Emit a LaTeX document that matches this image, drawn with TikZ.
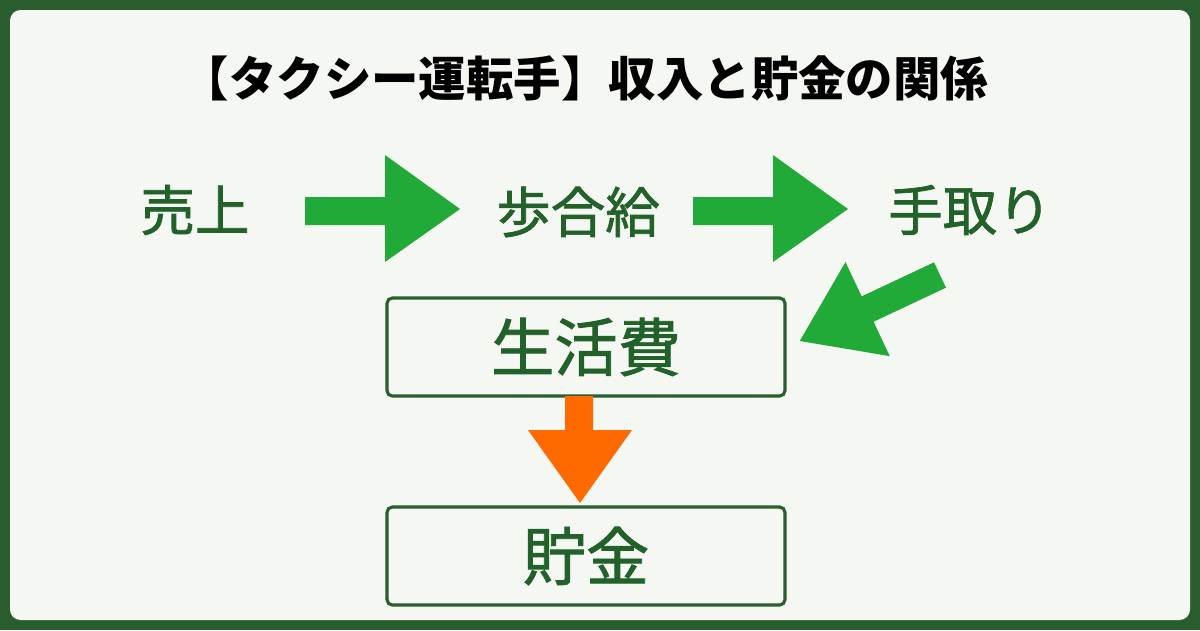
\documentclass[tikz,border=0pt]{standalone}
\usepackage{fontspec}
\setmainfont{Noto Sans CJK JP}
\newfontfamily\medfont[FakeBold=1.3]{Noto Sans CJK JP}
\begin{document}
\begin{tikzpicture}[x=0.02cm,y=-0.02cm,
  lbl/.style={text=txtgreen,font=\medfont\fontsize{31}{35}\selectfont},
  box/.style={draw=frame,line width=1.8pt,rounded corners=3pt,minimum width=7.96cm,minimum height=1.96cm,text=txtgreen,font=\medfont\fontsize{36}{40}\selectfont},
  garrow/.style={fill=arrowgreen},
]
\definecolor{arrowgreen}{HTML}{22AA38}
\definecolor{frame}{HTML}{2A5E2E}
\definecolor{txtgreen}{HTML}{23612A}
\definecolor{bg}{HTML}{F5F7F3}
\definecolor{orng}{HTML}{FF6A00}
\fill[frame] (0,0) rectangle (1200,630);
\fill[bg,rounded corners=6pt] (10,10) rectangle (1190,620);
\node[font=\bfseries\fontsize{27}{32}\selectfont] (title) at (585,78) {【タクシー運転手】収入と貯金の関係};
\node[lbl] (uri) at (195,210) {売上};
\node[lbl] (bu) at (578,212) {歩合給};
\node[lbl] (te) at (970,210) {手取り};
\fill[garrow] (305,197) -- (385,197) -- (385,155) -- (460,209) -- (385,262) -- (385,225) -- (305,225) -- cycle;
\fill[garrow] (693,197) -- (773,197) -- (773,155) -- (848,209) -- (773,262) -- (773,225) -- (693,225) -- cycle;
\begin{scope}[shift={(940,275)},rotate=205.2]
\fill[garrow] (0,-14) -- (80,-14) -- (80,-52) -- (155,0) -- (80,52) -- (80,14) -- (0,14) -- cycle;
\end{scope}
\node[box] (seikatsu) at (586,347) {生活費};
\node[box] (chokin) at (586,556) {貯金};
\fill[orng] (565,396) -- (593,396) -- (593,430) -- (632,430) -- (580,503) -- (528,430) -- (565,430) -- cycle;
\end{tikzpicture}
\end{document}
